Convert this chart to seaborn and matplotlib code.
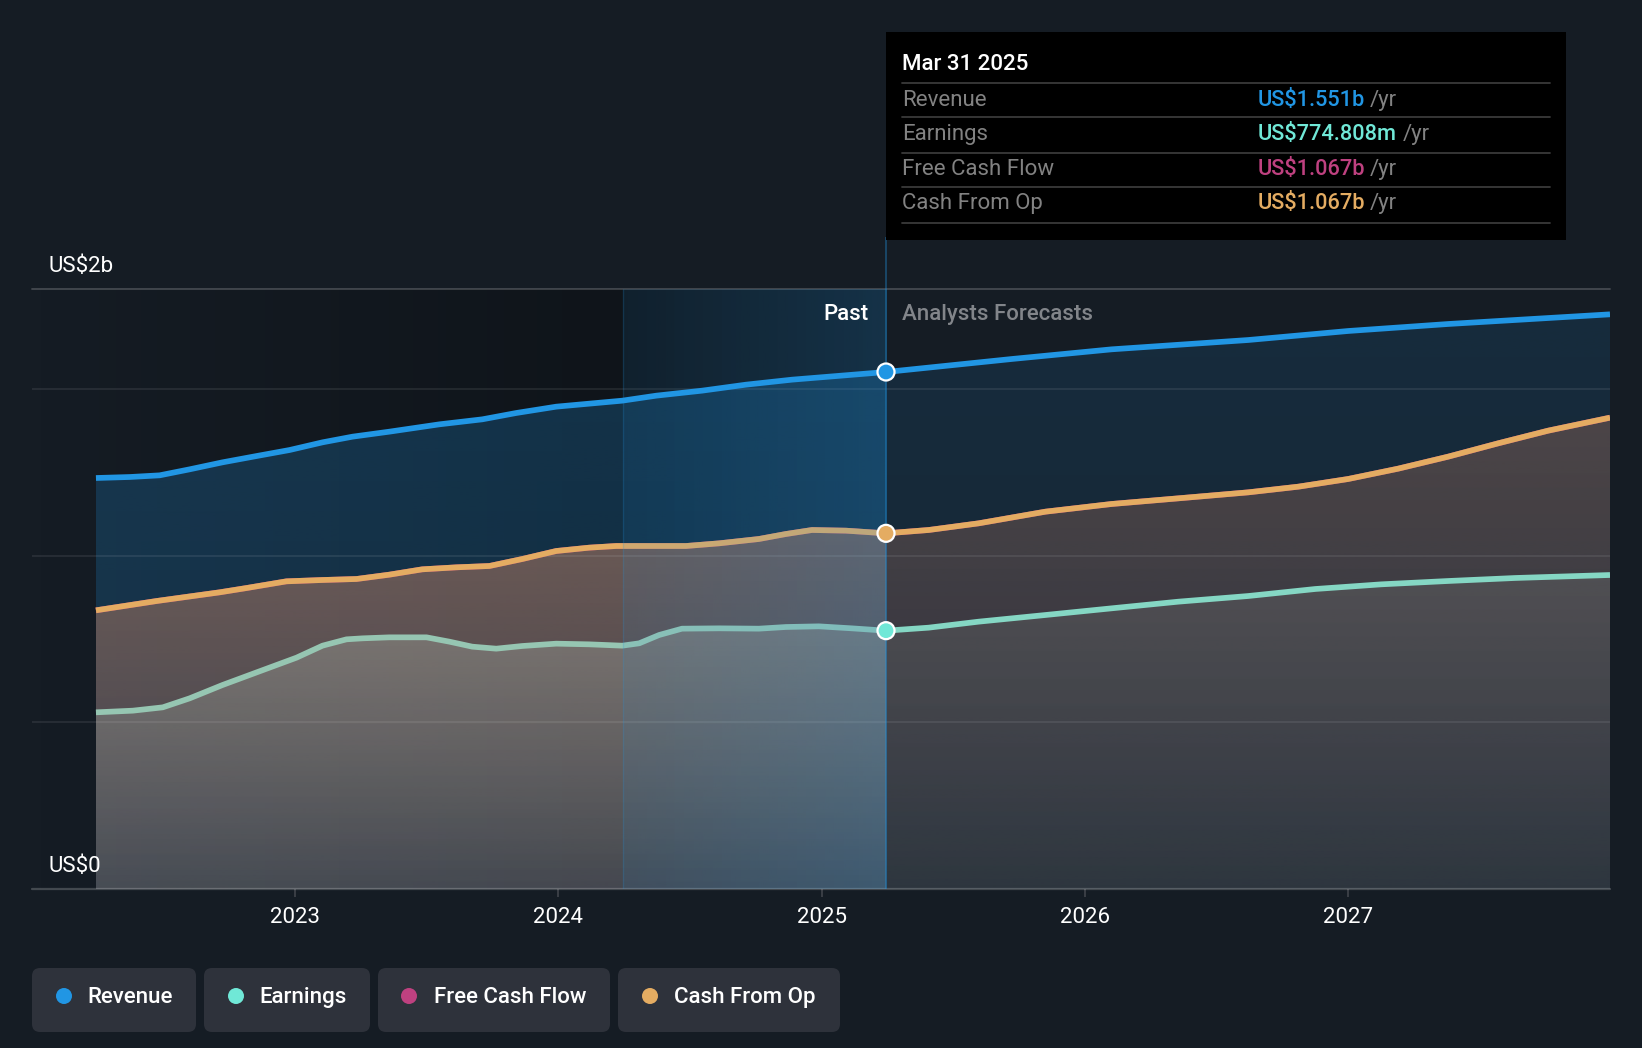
import matplotlib
matplotlib.use("Agg")
import matplotlib.pyplot as plt
from matplotlib.patches import Circle, FancyBboxPatch, Rectangle
import numpy as np
import pandas as pd
import seaborn as sns

# values in US$b
rev_years = [2022.243, 2022.372, 2022.485, 2022.599, 2022.724, 2022.854, 2022.979, 2023.104, 2023.218,
             2023.358, 2023.548, 2023.711, 2023.840, 2023.992, 2024.117, 2024.243, 2024.372, 2024.546,
             2024.713, 2024.888, 2025.245, 2025.723, 2026.102, 2026.622, 2027.001, 2027.381, 2027.635, 2027.996]
rev_values = [1.233, 1.236, 1.241, 1.259, 1.280, 1.299, 1.317, 1.340, 1.357,
              1.372, 1.394, 1.409, 1.428, 1.447, 1.456, 1.465, 1.480, 1.495,
              1.513, 1.528, 1.551, 1.590, 1.619, 1.647, 1.674, 1.695, 1.707, 1.724]

cfo_years = [2022.243, 2022.474, 2022.713, 2022.816, 2022.967, 2023.104, 2023.233, 2023.358, 2023.483,
             2023.613, 2023.738, 2023.863, 2023.992, 2024.117, 2024.220, 2024.372, 2024.485, 2024.611,
             2024.762, 2024.865, 2024.964, 2025.093, 2025.245, 2025.407, 2025.597, 2025.851, 2026.102,
             2026.356, 2026.622, 2026.812, 2027.001, 2027.191, 2027.381, 2027.571, 2027.761, 2027.996]
cfo_values = [0.836, 0.864, 0.890, 0.903, 0.923, 0.927, 0.930, 0.943, 0.959,
              0.965, 0.969, 0.990, 1.014, 1.024, 1.029, 1.029, 1.029, 1.037,
              1.050, 1.065, 1.077, 1.075, 1.067, 1.077, 1.097, 1.132, 1.155,
              1.172, 1.190, 1.207, 1.230, 1.261, 1.297, 1.337, 1.375, 1.414]
# free cash flow sits right behind cash from op
fcf_years = cfo_years
fcf_values = cfo_values

earn_years = [2022.243, 2022.383, 2022.497, 2022.599, 2022.724, 2022.854, 2023.005, 2023.104, 2023.195,
              2023.256, 2023.358, 2023.499, 2023.586, 2023.673, 2023.764, 2023.863, 2023.992, 2024.117,
              2024.243, 2024.307, 2024.383, 2024.470, 2024.611, 2024.762, 2024.865, 2024.990, 2025.115,
              2025.245, 2025.407, 2025.597, 2025.851, 2026.102, 2026.356, 2026.622, 2026.876, 2027.127,
              2027.381, 2027.635, 2027.996]
earn_values = [0.530, 0.535, 0.545, 0.572, 0.612, 0.650, 0.694, 0.730, 0.749,
               0.752, 0.755, 0.755, 0.742, 0.727, 0.721, 0.729, 0.736, 0.734,
               0.730, 0.737, 0.762, 0.781, 0.782, 0.781, 0.786, 0.788, 0.782,
               0.775, 0.784, 0.802, 0.822, 0.842, 0.862, 0.879, 0.900, 0.914,
               0.924, 0.933, 0.942]

now_year = 2025.245
now_values = [1.551, 0.775, 1.067, 1.067]
year_ticks = [2023, 2024, 2025, 2026, 2027]
year_labels = ["2023", "2024", "2025", "2026", "2027"]
grid_values = [0.5, 1.0, 1.5]
band_start = 2024.245

series_names = ["Revenue", "Earnings", "Free Cash Flow", "Cash From Op"]
tooltip_values = ["US$1.551b", "US$774.808m", "US$1.067b", "US$1.067b"]

BG = "#151c24"
REV = "#2196e4"
EARN = "#70e8d7"
FCF = "#bf4180"
CFO = "#e4ac62"
EARN_FILL = "#b9c4b8"
series_colors = [REV, EARN, FCF, CFO]

sns.set_theme(style="dark", rc={"figure.facecolor": BG, "axes.facecolor": BG})
plt.rcParams["font.family"] = ["Roboto", "DejaVu Sans"]

fig = plt.figure(figsize=(16.42, 10.48), dpi=100, facecolor=BG)
ax = fig.add_axes([32 / 1642, 1 - 889 / 1048, (1610 - 32) / 1642, (889 - 289) / 1048])
ax.set_facecolor("none")


def gradient_fill(x, y, color, a_top, a_bottom, top, zorder):
    # area under a line, alpha fades with the value
    x = np.asarray(x)
    y = np.asarray(y)
    poly = ax.fill_between(x, y, 0, color="none", linewidth=0)
    grad = np.zeros((256, 1, 4))
    grad[..., :3] = matplotlib.colors.to_rgb(color)
    grad[:, 0, 3] = np.linspace(a_top, a_bottom, 256)
    im = ax.imshow(grad, extent=[x[0], x[-1], 0, top], aspect="auto", origin="upper", zorder=zorder)
    im.set_clip_path(poly.get_paths()[0], transform=ax.transData)


def split(x, y):
    x = np.asarray(x)
    y = np.asarray(y)
    past = x <= now_year
    fut = x >= now_year
    return x[past], y[past], x[fut], y[fut]


# darker zone behind the past part of the chart
xs = np.linspace(2022.0, now_year, 400)
dark = np.zeros((1, 400, 4))
dark[0, :, 3] = np.interp(xs, [2022.0, band_start, now_year], [0.0, 0.28, 0.13])
ax.imshow(dark, extent=[2022.0, now_year, 0, 1.8], aspect="auto", zorder=0.5)

# area fills, stronger in the past than in the forecast
px, py, fx, fy = split(rev_years, rev_values)
gradient_fill(px, py, REV, 0.24, 0.17, 1.6, 1.0)
gradient_fill(fx, fy, REV, 0.13, 0.09, 1.8, 1.0)
px, py, fx, fy = split(fcf_years, fcf_values)
gradient_fill(px, py, FCF, 0.19, 0.08, 1.1, 1.2)
gradient_fill(fx, fy, FCF, 0.11, 0.04, 1.45, 1.2)
px, py, fx, fy = split(cfo_years, cfo_values)
gradient_fill(px, py, CFO, 0.33, 0.13, 1.1, 1.4)
gradient_fill(fx, fy, CFO, 0.20, 0.06, 1.45, 1.4)
px, py, fx, fy = split(earn_years, earn_values)
gradient_fill(px, py, EARN_FILL, 0.30, 0.10, 0.8, 1.6)
gradient_fill(fx, fy, EARN_FILL, 0.14, 0.05, 0.95, 1.6)

# grid
for v in grid_values:
    ax.axhline(v, color="white", alpha=0.10, lw=1.1, zorder=2)
ax.axhline(1.8, color="white", alpha=0.20, lw=1.3, zorder=2, clip_on=False)
ax.axhline(0, color="white", alpha=0.20, lw=1.6, zorder=2, clip_on=False)

# lines
rev_df = pd.DataFrame({"year": rev_years, "value": rev_values})
fcf_df = pd.DataFrame({"year": fcf_years, "value": fcf_values})
cfo_df = pd.DataFrame({"year": cfo_years, "value": cfo_values})
earn_df = pd.DataFrame({"year": earn_years, "value": earn_values})
line_kw = dict(x="year", y="value", ax=ax, lw=4.1, solid_capstyle="butt", solid_joinstyle="round",
               errorbar=None, legend=False, zorder=3)
sns.lineplot(data=rev_df, color=REV, **line_kw)
sns.lineplot(data=fcf_df, color=FCF, **line_kw)
sns.lineplot(data=cfo_df, color=CFO, **line_kw)
sns.lineplot(data=earn_df[earn_df.year <= now_year], color="#96c6b2", **line_kw)
sns.lineplot(data=earn_df[earn_df.year >= now_year], color="#85d7c4", **line_kw)

# blue band over the last year of the past
band = np.zeros((1, 300, 4))
band[..., :3] = matplotlib.colors.to_rgb(REV)
band[0, :, 3] = np.linspace(0.10, 0.21, 300)
ax.imshow(band, extent=[band_start, now_year, 0, 1.8], aspect="auto", zorder=4)
ax.vlines(band_start, 0, 1.8, color=REV, alpha=0.18, lw=1.0, zorder=4)
ax.vlines(now_year, 0, 1.955, color=REV, alpha=0.35, lw=1.4, zorder=4, clip_on=False)

# markers on the last reported point
marker_df = pd.DataFrame({"year": [now_year] * 3, "value": [now_values[0], now_values[1], now_values[3]],
                          "name": ["Revenue", "Earnings", "Cash From Op"]})
sns.scatterplot(data=marker_df, x="year", y="value", hue="name",
                palette={"Revenue": REV, "Earnings": EARN, "Cash From Op": CFO},
                s=150, edgecolor="white", linewidth=1.6, ax=ax, legend=False, zorder=5, clip_on=False)

ax.set_xlim(2022.0, 2027.996)
ax.set_ylim(0, 1.8)
ax.set_xticks(year_ticks)
ax.set_xticklabels(year_labels, fontsize=16, color="white")
ax.set_yticks([])
ax.set_xlabel("")
ax.set_ylabel("")
ax.tick_params(axis="x", length=6, width=1.1, color="#45484f", pad=7, bottom=True)
ax.grid(False)
for s in ax.spines.values():
    s.set_visible(False)

# overlay in pixels for the tooltip, legend chips and labels
ov = fig.add_axes([0, 0, 1, 1], zorder=10)
ov.set_xlim(0, 1642)
ov.set_ylim(1048, 0)
ov.axis("off")
ov.patch.set_visible(False)

ov.text(48, 272, "US$2b", fontsize=16, color="white", va="baseline")
ov.text(48, 872, "US$0", fontsize=16, color="white", va="baseline")
ov.text(869, 320, "Past", fontsize=16, color="white", ha="right", va="baseline", fontweight="medium")
ov.text(902, 320, "Analysts Forecasts", fontsize=16, color="#82858a", va="baseline", fontweight="medium")

# tooltip
ov.add_patch(Rectangle((886, 32), 680, 208, color="black", lw=0))
ov.text(902, 70, "Mar 31 2025", fontsize=16, color="white", va="baseline", fontweight="medium")
for y in [83, 117, 153, 187, 223]:
    ov.plot([902, 1550], [y, y], color="#3a3a3a", lw=1.3)
row_y = [106, 140, 175, 209]
yr_x = [1370, 1403, 1370, 1370]
for name, val, col, y, x2 in zip(series_names, tooltip_values, series_colors, row_y, yr_x):
    ov.text(902, y, name, fontsize=16, color="#828282", va="baseline")
    ov.text(1258, y, val, fontsize=15.7, color=col, va="baseline", fontweight="medium")
    ov.text(x2, y, "/yr", fontsize=16, color="#828282", va="baseline")

# legend chips
chip_left = [32, 204, 378, 618]
chip_right = [196, 370, 610, 840]
dot_x = [64, 236, 409, 650]
text_x = [87, 259, 434, 674]
for name, col, l, r, dx, tx in zip(series_names, series_colors, chip_left, chip_right, dot_x, text_x):
    ov.add_patch(FancyBboxPatch((l, 968), r - l, 64, boxstyle="round,pad=0,rounding_size=8",
                                color="#2e323b", lw=0))
    ov.add_patch(Circle((dx, 996), 8, color=col, lw=0))
    ov.text(tx, 1003, name, fontsize=16, color="white", va="baseline", fontweight="medium")

fig.savefig("out.png", dpi=100, facecolor=BG)
plt.close(fig)
